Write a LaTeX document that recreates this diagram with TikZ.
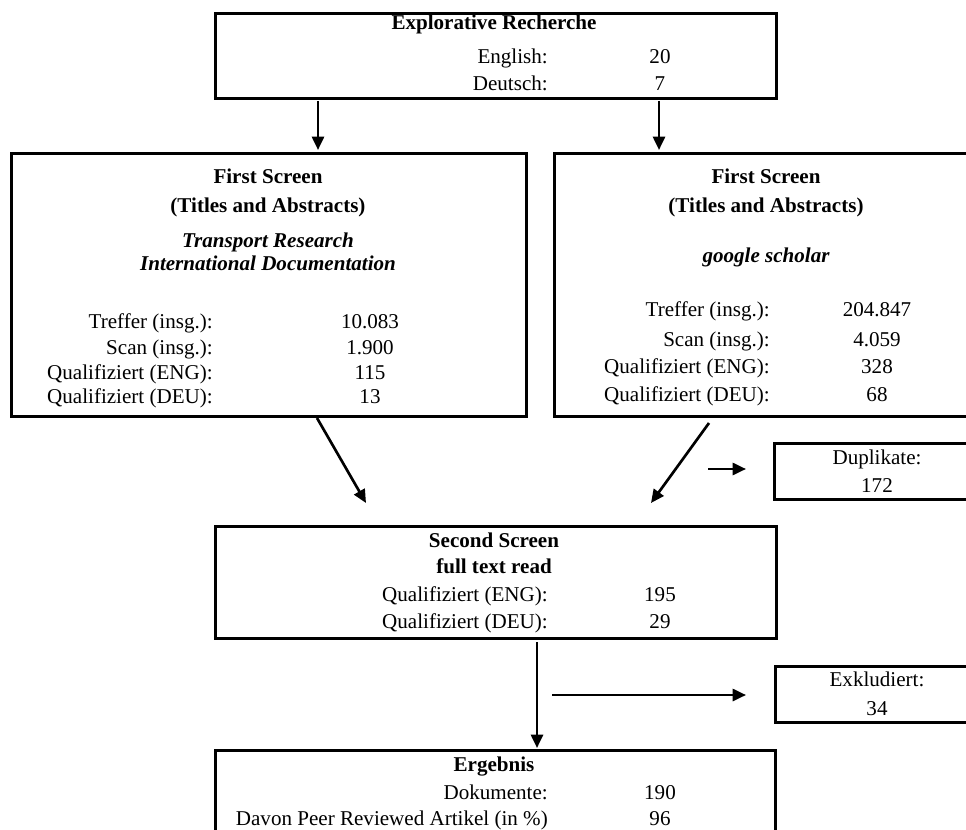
\documentclass[tikz,border=0pt]{standalone}
\usepackage{fontspec}
\setmainfont{Liberation Serif}
\usetikzlibrary{arrows.meta}
\newcommand\bodyfont{\fontsize{15.8}{18}\selectfont}
\begin{document}
\begin{tikzpicture}[x=0.75pt,y=-0.75pt,
  box/.style={draw, line width=2.1pt, inner sep=0pt, anchor=north west},
  ttl/.style={anchor=base, inner sep=0pt, font=\bodyfont\bfseries},
  src/.style={anchor=base, inner sep=0pt, font=\bodyfont\bfseries\itshape},
  lbl/.style={anchor=base east, inner sep=0pt, font=\bodyfont},
  num/.style={anchor=base, inner sep=0pt, font=\bodyfont},
  flow/.style={line width=2pt, -{Triangle[length=10pt,width=9pt]}}]
\useasboundingbox (0,0) rectangle (966,830);
\clip (0,0) rectangle (966,830);

% boxes
\node[box, minimum width=420.75pt, minimum height=63.75pt] (top) at (214,12) {};
\node[box, minimum width=386.25pt, minimum height=197.25pt] (left) at (10,152) {};
\node[box, minimum width=321pt, minimum height=197.25pt] (right) at (553,152) {};
\node[box, minimum width=156pt, minimum height=42pt] (dup) at (773,442) {};
\node[box, minimum width=420.75pt, minimum height=84pt] (second) at (214,525) {};
\node[box, minimum width=155.25pt, minimum height=42pt] (exk) at (774,665) {};
\node[box, minimum width=420pt, minimum height=90pt] (erg) at (214,749) {};

% top box text
\node[ttl] (t0) at (494,30) {Explorative Recherche};
\node[lbl] (t1) at (548,64) {English:};
\node[num] (t1n) at (660,64) {20};
\node[lbl] (t2) at (548,91) {Deutsch:};
\node[num] (t2n) at (660,91) {7};

% left box text
\node[ttl] (l0) at (268,184) {First Screen};
\node[ttl] (l1) at (268,213) {(Titles and Abstracts)};
\node[src] (l2) at (268,248) {Transport Research};
\node[src] (l3) at (268,271) {International Documentation};
\node[lbl] (l4) at (213,328) {Treffer (insg.):};
\node[num] (l4n) at (370,328) {10.083};
\node[lbl] (l5) at (213,354) {Scan (insg.):};
\node[num] (l5n) at (370,354) {1.900};
\node[lbl] (l6) at (213,379) {Qualifiziert (ENG):};
\node[num] (l6n) at (370,379) {115};
\node[lbl] (l7) at (213,403) {Qualifiziert (DEU):};
\node[num] (l7n) at (370,403) {13};

% right box text
\node[ttl] (r0) at (766,184) {First Screen};
\node[ttl] (r1) at (766,213) {(Titles and Abstracts)};
\node[src] (r2) at (766,263) {google scholar};
\node[lbl] (r4) at (770,316) {Treffer (insg.):};
\node[num] (r4n) at (877,316) {204.847};
\node[lbl] (r5) at (770,346) {Scan (insg.):};
\node[num] (r5n) at (877,346) {4.059};
\node[lbl] (r6) at (770,373) {Qualifiziert (ENG):};
\node[num] (r6n) at (877,373) {328};
\node[lbl] (r7) at (770,401) {Qualifiziert (DEU):};
\node[num] (r7n) at (877,401) {68};

% duplicates
\node[num] (d0) at (877,464) {Duplikate:};
\node[num] (d1) at (877,492) {172};

% second screen
\node[ttl] (s0) at (494,547) {Second Screen};
\node[ttl] (s1) at (494,573) {full text read};
\node[lbl] (s2) at (548,601) {Qualifiziert (ENG):};
\node[num] (s2n) at (660,601) {195};
\node[lbl] (s3) at (548,628) {Qualifiziert (DEU):};
\node[num] (s3n) at (660,628) {29};

% excluded
\node[num] (e0) at (877,686) {Exkludiert:};
\node[num] (e1) at (877,715) {34};

% result
\node[ttl] (g0) at (494,771) {Ergebnis};
\node[lbl] (g1) at (548,799) {Dokumente:};
\node[num] (g1n) at (660,799) {190};
\node[lbl] (g2) at (548,825) {Davon Peer Reviewed Artikel (in \%)};
\node[num] (g2n) at (660,825) {96};

% arrow end points
\coordinate (a1s) at (318,101);
\coordinate (a1e) at (318,150);
\coordinate (a2s) at (659,101);
\coordinate (a2e) at (659,150);
\coordinate (a3s) at (317,418);
\coordinate (a3e) at (366,503);
\coordinate (a4s) at (709,423);
\coordinate (a4e) at (651,503);
\coordinate (a5s) at (708,469);
\coordinate (a5e) at (746,469);
\coordinate (a6s) at (537,642);
\coordinate (a6e) at (537,748);
\coordinate (a7s) at (552,695);
\coordinate (a7e) at (746,695);

\draw[flow] (a1s) -- (a1e);
\draw[flow] (a2s) -- (a2e);
\draw[flow] (a3s) -- (a3e);
\draw[flow] (a4s) -- (a4e);
\draw[flow] (a5s) -- (a5e);
\draw[flow] (a6s) -- (a6e);
\draw[flow] (a7s) -- (a7e);
\end{tikzpicture}
\end{document}
